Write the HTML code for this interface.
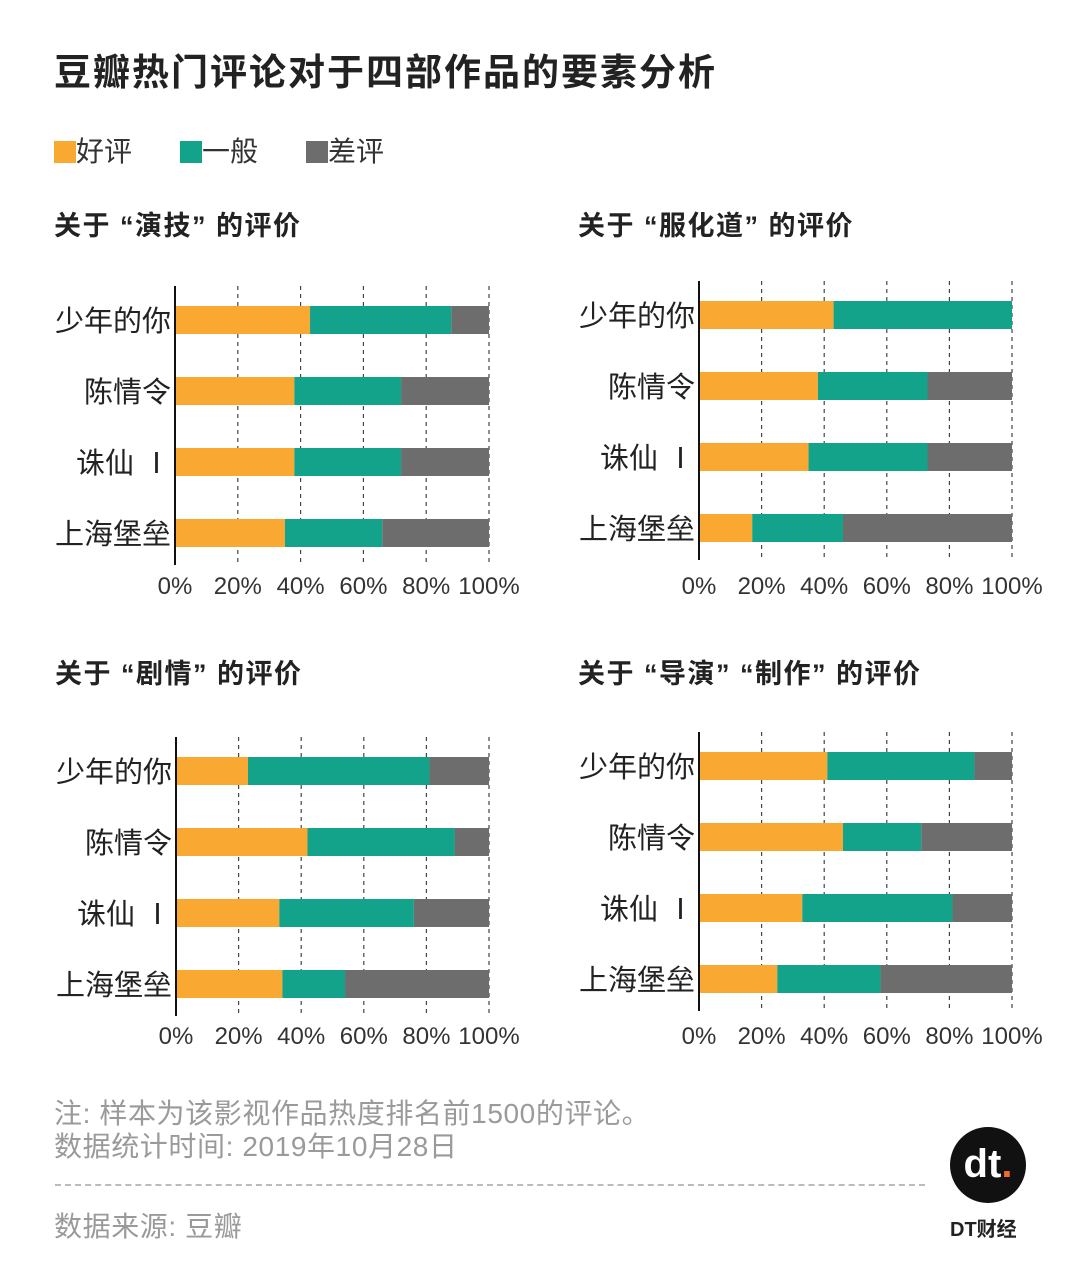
<!DOCTYPE html>
<html><head><meta charset="utf-8">
<style>
body{margin:0;background:#fff;}
#root{position:relative;width:1080px;height:1261px;overflow:hidden;font-family:"Liberation Sans","Noto Sans CJK SC",sans-serif;color:#222;}
.t{position:absolute;white-space:nowrap;}
</style></head>
<body>
<div id="root">
<div class="t" style="left:54px;top:42px;font-size:37px;letter-spacing:2px;font-weight:bold;">豆瓣热门评论对于四部作品的要素分析</div>
<div style="position:absolute;left:54px;top:130px;font-size:28px;color:#333;">
 <span style="position:absolute;left:0;top:0;white-space:nowrap;"><span style="display:inline-block;width:22px;height:22px;background:#f9a832;vertical-align:-2px;"></span>好评</span>
 <span style="position:absolute;left:126px;top:0;white-space:nowrap;"><span style="display:inline-block;width:22px;height:22px;background:#12a38a;vertical-align:-2px;"></span>一般</span>
 <span style="position:absolute;left:252px;top:0;white-space:nowrap;"><span style="display:inline-block;width:22px;height:22px;background:#6d6d6d;vertical-align:-2px;"></span>差评</span>
</div>
<svg id="svg" width="1080" height="1261" style="position:absolute;left:0;top:0;"></svg>
<div class="t" style="left:54px;top:1092px;font-size:28px;letter-spacing:0.6px;color:#9a9a9a;">注: 样本为该影视作品热度排名前1500的评论。</div>
<div class="t" style="left:54px;top:1125px;font-size:28px;letter-spacing:0.6px;color:#9a9a9a;">数据统计时间: 2019年10月28日</div>
<div style="position:absolute;left:55px;top:1184px;width:870px;border-top:2px dashed #bbb;"></div>
<div class="t" style="left:54px;top:1205px;font-size:28px;letter-spacing:0.6px;color:#9a9a9a;">数据来源: 豆瓣</div>
<div style="position:absolute;left:950px;top:1127px;width:76px;height:76px;border-radius:50%;background:#111;color:#fff;font-size:40px;font-weight:bold;text-align:center;line-height:74px;">dt<span style="color:#f26b2a">.</span></div>
<div class="t" style="left:950px;top:1213px;font-size:20px;font-weight:bold;">DT财经</div>
</div>
<script>
const categories=["少年的你","陈情令","诛仙 Ⅰ","上海堡垒"];
const chartTitles=["关于 “演技” 的评价","关于 “服化道” 的评价","关于 “剧情” 的评价","关于 “导演” “制作” 的评价"];
const goodVals=[[43,38,38,35],[43,38,35,17],[23,42,33,34],[41,46,33,25]];
const neutralVals=[[45,34,34,31],[57,35,38,29],[58,47,43,20],[47,25,48,33]];
const badVals=[[12,28,28,34],[0,27,27,54],[19,11,24,46],[12,29,19,42]];
const tickVals=[0,20,40,60,80,100];
const colors=["#f9a832","#12a38a","#6d6d6d"];
const panels=[{x0:175,x1:489,top:222,row0:320,tick:594},{x0:699,x1:1012,top:222,row0:315,tick:594},{x0:176,x1:489,top:670,row0:771,tick:1044},{x0:699,x1:1012,top:670,row0:766,tick:1044}];
const svg=document.getElementById('svg');const NS="http://www.w3.org/2000/svg";
function mk(t,a){const e=document.createElementNS(NS,t);for(const k in a)e.setAttribute(k,a[k]);svg.appendChild(e);return e;}
panels.forEach((p,i)=>{
 const xs=v=>p.x0+(p.x1-p.x0)*v/100;
 const ys=j=>p.row0+j*71;
 const tt=mk('text',{x:p.x0-121,y:p.top+13,'font-size':27,'letter-spacing':1.5,'font-weight':'bold',fill:'#222'});tt.textContent=chartTitles[i];
 
 
 tickVals.forEach(v=>{
  if(v>0){const g=mk('line',{x1:xs(v),x2:xs(v),y1:ys(0)-34,y2:ys(3)+32,stroke:'#444','stroke-width':1.2,'stroke-dasharray':'4,4'});
  
  }
  const l=mk('text',{x:xs(v),y:p.tick,'font-size':24,'text-anchor':'middle',fill:'#333'});l.textContent=v+'%';
  
  
 });
 categories.forEach((c,j)=>{
  const vals=[goodVals[i][j],neutralVals[i][j],badVals[i][j]];let acc=0;
  vals.forEach((v,k)=>{const r=mk('rect',{x:xs(acc),y:ys(j)-14,width:xs(acc+v)-xs(acc),height:28,fill:colors[k]});acc+=v;
   
   });
  const lb=mk('text',{x:p.x0-4,y:ys(j)+11,'font-size':29,'text-anchor':'end',fill:'#222'});lb.textContent=c;
  
  
 });
 const ax=mk('line',{x1:p.x0,x2:p.x0,y1:ys(0)-34,y2:ys(3)+32,stroke:'#111','stroke-width':2});
 
 
});
</script>
</body></html>
